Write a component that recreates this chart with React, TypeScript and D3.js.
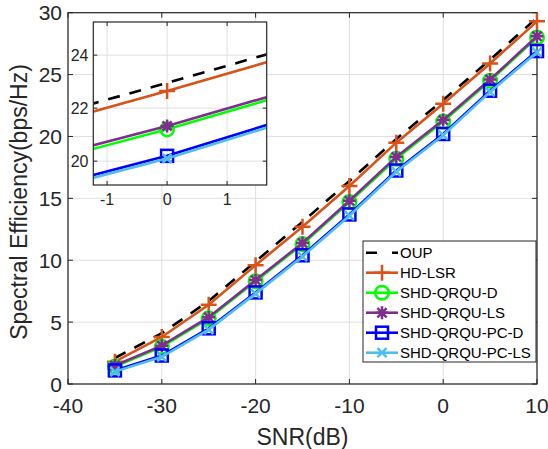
import React, { useEffect, useRef } from "react";
import * as d3 from "d3";

// SNR points (dB)
const snr = [-35, -30, -25, -20, -15, -10, -5, 0, 5, 10];

const oup = [2.1, 4.1, 6.7, 9.9, 13.1, 16.4, 19.8, 22.95, 26.2, 29.6];
const hdLsr = [1.8, 3.8, 6.4, 9.6, 12.7, 16.0, 19.5, 22.65, 25.9, 29.3];
const shdD = [1.4, 3.0, 5.3, 8.3, 11.3, 14.7, 18.2, 21.2, 24.5, 28.0];
const shdLs = [1.5, 3.1, 5.4, 8.4, 11.4, 14.8, 18.35, 21.33, 24.6, 28.1];
const pcD = [1.1, 2.3, 4.5, 7.4, 10.4, 13.7, 17.25, 20.2, 23.7, 26.9];
const pcLs = [1.0, 2.2, 4.4, 7.3, 10.3, 13.6, 17.15, 20.1, 23.6, 26.8];

const xTicks = [-40, -30, -20, -10, 0, 10];
const yTicks = [0, 5, 10, 15, 20, 25, 30];
const insetXTicks = [-1, 0, 1];
const insetYTicks = [20, 22, 24];

const series = [
  { name: "OUP", values: oup, color: "#000000", dash: "12,10", marker: "none" },
  { name: "HD-LSR", values: hdLsr, color: "#D95319", dash: null, marker: "plus" },
  { name: "SHD-QRQU-D", values: shdD, color: "#00FF00", dash: null, marker: "circle" },
  { name: "SHD-QRQU-LS", values: shdLs, color: "#7E2F8E", dash: null, marker: "asterisk" },
  { name: "SHD-QRQU-PC-D", values: pcD, color: "#0000FF", dash: null, marker: "square" },
  { name: "SHD-QRQU-PC-LS", values: pcLs, color: "#4DBEEE", dash: null, marker: "x" },
];

const FONT = "'Liberation Sans', Arial, Helvetica, sans-serif";
const TEXT = "#262626";
const GRID = "#dfdfdf";

function drawMarker(g: any, type: string, color: string, cx: number, cy: number) {
  const sw = 2.5;
  if (type === "plus") {
    g.append("path")
      .attr("d", `M${cx - 8},${cy}H${cx + 8}M${cx},${cy - 8}V${cy + 8}`)
      .attr("stroke", color).attr("stroke-width", sw).attr("fill", "none");
  } else if (type === "circle") {
    g.append("circle").attr("cx", cx).attr("cy", cy).attr("r", 6.8)
      .attr("stroke", color).attr("stroke-width", sw).attr("fill", "none");
  } else if (type === "asterisk") {
    const a = 6.5, b = 4.6;
    g.append("path")
      .attr("d", `M${cx - a},${cy}H${cx + a}M${cx},${cy - a}V${cy + a}M${cx - b},${cy - b}L${cx + b},${cy + b}M${cx - b},${cy + b}L${cx + b},${cy - b}`)
      .attr("stroke", color).attr("stroke-width", sw).attr("fill", "none");
  } else if (type === "square") {
    g.append("rect").attr("x", cx - 6).attr("y", cy - 6).attr("width", 12).attr("height", 12)
      .attr("stroke", color).attr("stroke-width", sw).attr("fill", "none");
  } else if (type === "x") {
    const b = 4.5;
    g.append("path")
      .attr("d", `M${cx - b},${cy - b}L${cx + b},${cy + b}M${cx - b},${cy + b}L${cx + b},${cy - b}`)
      .attr("stroke", color).attr("stroke-width", sw).attr("fill", "none");
  }
}

export default function App() {
  const ref = useRef<SVGSVGElement>(null);

  useEffect(() => {
    const svg = d3.select(ref.current);
    svg.selectAll("*").remove();

    const left = 68, right = 537, top = 12.7, bottom = 384;
    const x = d3.scaleLinear().domain([-40, 10]).range([left, right]);
    const y = d3.scaleLinear().domain([0, 30]).range([bottom, top]);

    // grid
    const grid = svg.append("g");
    xTicks.forEach(t => {
      grid.append("line").attr("x1", x(t)).attr("x2", x(t)).attr("y1", top).attr("y2", bottom)
        .attr("stroke", GRID).attr("stroke-width", 1);
    });
    yTicks.forEach(t => {
      grid.append("line").attr("x1", left).attr("x2", right).attr("y1", y(t)).attr("y2", y(t))
        .attr("stroke", GRID).attr("stroke-width", 1);
    });

    // ticks + labels
    const axes = svg.append("g");
    const tl = 5;
    xTicks.forEach(t => {
      axes.append("line").attr("x1", x(t)).attr("x2", x(t)).attr("y1", bottom).attr("y2", bottom - tl).attr("stroke", TEXT);
      axes.append("line").attr("x1", x(t)).attr("x2", x(t)).attr("y1", top).attr("y2", top + tl).attr("stroke", TEXT);
      axes.append("text").attr("x", x(t)).attr("y", 413).attr("text-anchor", "middle")
        .attr("font-family", FONT).attr("font-size", 21).attr("fill", TEXT).text(t);
    });
    yTicks.forEach(t => {
      axes.append("line").attr("x1", left).attr("x2", left + tl).attr("y1", y(t)).attr("y2", y(t)).attr("stroke", TEXT);
      axes.append("line").attr("x1", right).attr("x2", right - tl).attr("y1", y(t)).attr("y2", y(t)).attr("stroke", TEXT);
      axes.append("text").attr("x", 62).attr("y", y(t) + 7.5).attr("text-anchor", "end")
        .attr("font-family", FONT).attr("font-size", 21).attr("fill", TEXT).text(t);
    });
    axes.append("rect").attr("x", left).attr("y", top).attr("width", right - left).attr("height", bottom - top)
      .attr("fill", "none").attr("stroke", TEXT).attr("stroke-width", 1.2);

    axes.append("text").attr("x", (left + right) / 2).attr("y", 445).attr("text-anchor", "middle")
      .attr("font-family", FONT).attr("font-size", 23).attr("fill", TEXT).text("SNR(dB)");
    axes.append("text").attr("transform", `translate(27,202) rotate(-90)`)
      .attr("text-anchor", "middle")
      .attr("font-family", FONT).attr("font-size", 23).attr("fill", TEXT).text("Spectral Efficiency(bps/Hz)");

    // data
    const line = d3.line<number>().x((d, i) => x(snr[i])).y(d => y(d));
    const plot = svg.append("g");
    series.forEach(s => {
      plot.append("path").attr("d", line(s.values))
        .attr("fill", "none").attr("stroke", s.color).attr("stroke-width", 2.6)
        .attr("stroke-dasharray", s.dash);
      s.values.forEach((v, i) => drawMarker(plot, s.marker, s.color, x(snr[i]), y(v)));
    });

    // inset
    const il = 93.3, ir = 266.7, it = 22, ib = 185;
    const ix = d3.scaleLinear().domain([-1.23, 1.66]).range([il, ir]);
    const iy = d3.scaleLinear().domain([19.1, 25.25]).range([ib, it]);
    const inset = svg.append("g");
    inset.append("rect").attr("x", il).attr("y", it).attr("width", ir - il).attr("height", ib - it).attr("fill", "#fff");
    svg.append("clipPath").attr("id", "insetClip")
      .append("rect").attr("x", il).attr("y", it).attr("width", ir - il).attr("height", ib - it);
    insetXTicks.forEach(t => {
      inset.append("line").attr("x1", ix(t)).attr("x2", ix(t)).attr("y1", it).attr("y2", ib).attr("stroke", GRID);
    });
    insetYTicks.forEach(t => {
      inset.append("line").attr("x1", il).attr("x2", ir).attr("y1", iy(t)).attr("y2", iy(t)).attr("stroke", GRID);
    });
    const iline = d3.line<number>().x((d, i) => ix(snr[i])).y(d => iy(d));
    const iplot = inset.append("g").attr("clip-path", "url(#insetClip)");
    series.forEach(s => {
      iplot.append("path").attr("d", iline(s.values))
        .attr("fill", "none").attr("stroke", s.color).attr("stroke-width", 2.6)
        .attr("stroke-dasharray", s.dash);
      s.values.forEach((v, i) => {
        if (snr[i] >= -1.23 && snr[i] <= 1.66) drawMarker(iplot, s.marker, s.color, ix(snr[i]), iy(v));
      });
    });
    const itl = 4;
    insetXTicks.forEach(t => {
      inset.append("line").attr("x1", ix(t)).attr("x2", ix(t)).attr("y1", ib).attr("y2", ib - itl).attr("stroke", TEXT);
      inset.append("line").attr("x1", ix(t)).attr("x2", ix(t)).attr("y1", it).attr("y2", it + itl).attr("stroke", TEXT);
      inset.append("text").attr("x", ix(t)).attr("y", 205).attr("text-anchor", "middle")
        .attr("font-family", FONT).attr("font-size", 16).attr("fill", TEXT).text(t);
    });
    insetYTicks.forEach(t => {
      inset.append("line").attr("x1", il).attr("x2", il + itl).attr("y1", iy(t)).attr("y2", iy(t)).attr("stroke", TEXT);
      inset.append("line").attr("x1", ir).attr("x2", ir - itl).attr("y1", iy(t)).attr("y2", iy(t)).attr("stroke", TEXT);
      inset.append("text").attr("x", 88.5).attr("y", iy(t) + 6).attr("text-anchor", "end")
        .attr("font-family", FONT).attr("font-size", 16).attr("fill", TEXT).text(t);
    });
    inset.append("rect").attr("x", il).attr("y", it).attr("width", ir - il).attr("height", ib - it)
      .attr("fill", "none").attr("stroke", TEXT).attr("stroke-width", 1.2);

    // legend
    const lg = svg.append("g");
    lg.append("rect").attr("x", 363).attr("y", 241).attr("width", 173).attr("height", 121)
      .attr("fill", "#fff").attr("stroke", TEXT).attr("stroke-width", 1);
    series.forEach((s, i) => {
      const cy = 252.7 + i * 20;
      lg.append("line").attr("x1", 366).attr("x2", 398).attr("y1", cy).attr("y2", cy)
        .attr("stroke", s.color).attr("stroke-width", 2.6).attr("stroke-dasharray", s.dash ? "11,15" : null);
      drawMarker(lg, s.marker, s.color, 382, cy);
      lg.append("text").attr("x", 400).attr("y", cy + 5.5)
        .attr("font-family", FONT).attr("font-size", 15).attr("fill", "#000").text(s.name);
    });
  }, []);

  return (
    <svg ref={ref} width={548} height={449}
      style={{ position: "absolute", left: 0, top: 0, background: "#fff" }} />
  );
}
